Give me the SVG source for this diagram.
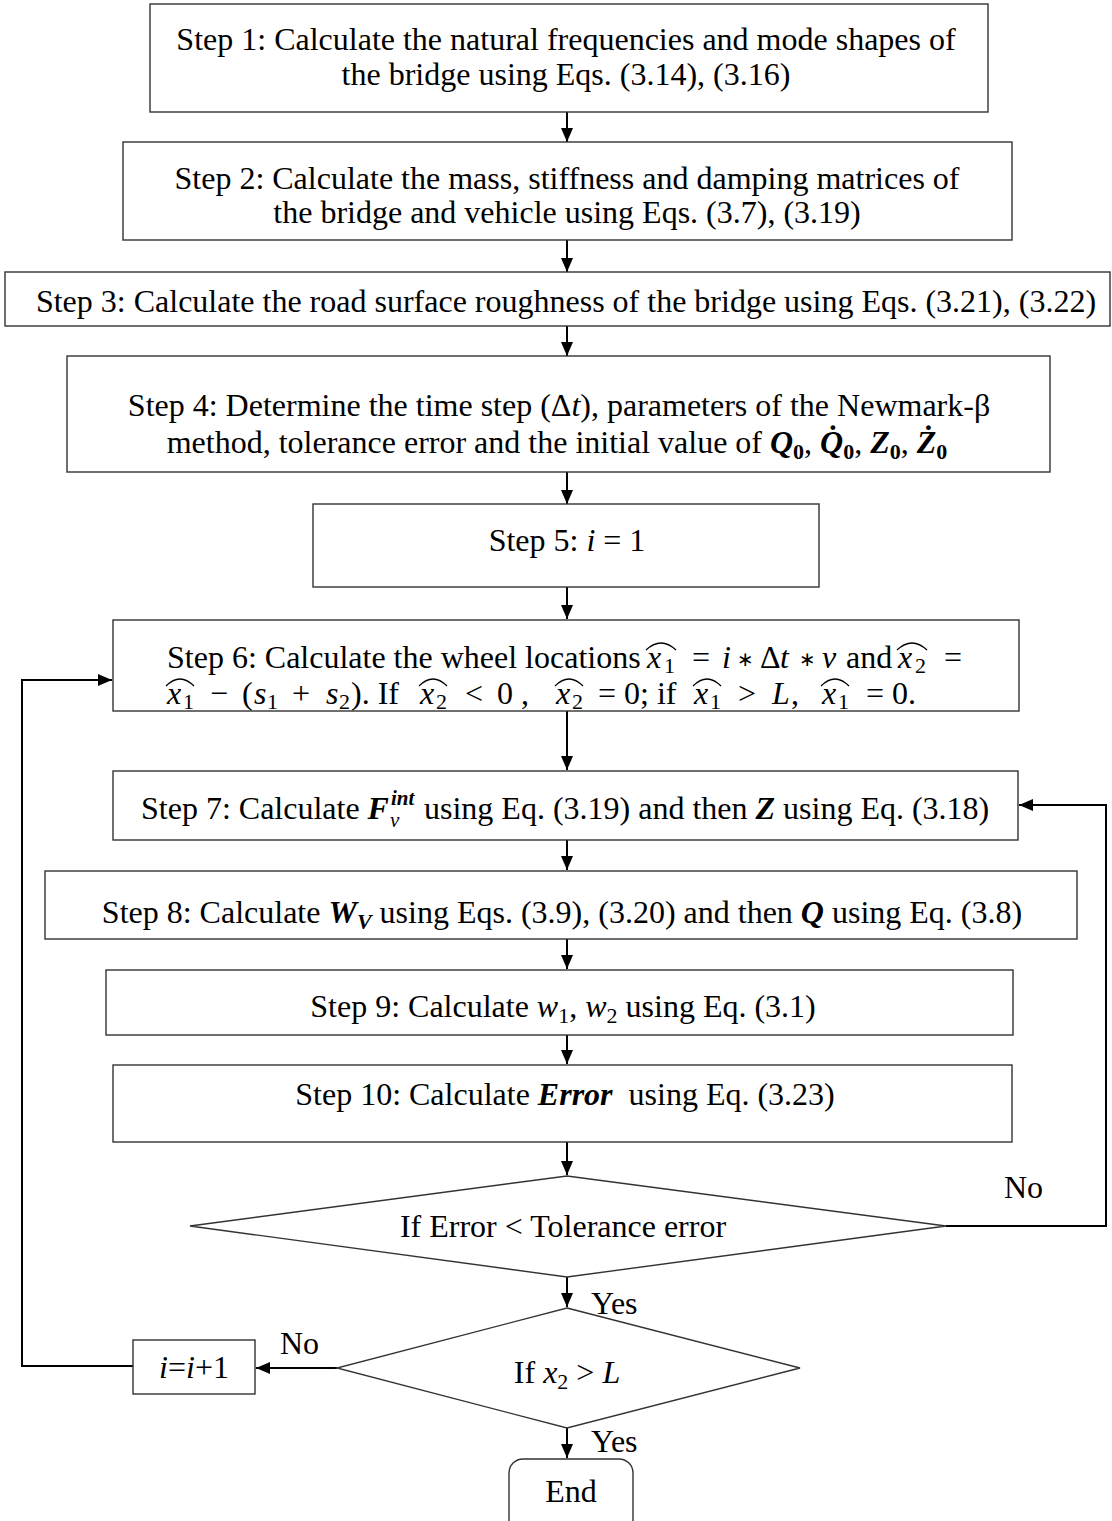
<svg xmlns="http://www.w3.org/2000/svg" width="1112" height="1521" viewBox="0 0 1112 1521">
<style>
.box{fill:#fff;stroke:#333;stroke-width:1.4}
.t{font-family:"Liberation Serif","Times New Roman",serif;font-size:32px;fill:#000}
.c{text-anchor:middle}
.m{font-style:italic}
.b{font-weight:bold;font-style:italic}
.bu{font-weight:bold}
.s{font-size:22px}
.ss{font-size:21px}
.op{font-family:"DejaVu Sans",sans-serif;font-size:20px}
.ln{fill:none;stroke:#000;stroke-width:2}
.hat{fill:none;stroke:#000;stroke-width:1.3}
</style>
<defs>
<marker id="ah" viewBox="0 0 14 12" refX="14" refY="6" markerWidth="14" markerHeight="12" markerUnits="userSpaceOnUse" orient="auto">
<path d="M0,0 L14,6 L0,12 z" fill="#000"/>
</marker>
</defs>
<rect width="1112" height="1521" fill="#fff"/>
<g id="connectors">
<line class="ln" x1="567" y1="112" x2="567" y2="142" marker-end="url(#ah)"/>
<line class="ln" x1="567" y1="240" x2="567" y2="272" marker-end="url(#ah)"/>
<line class="ln" x1="567" y1="326" x2="567" y2="356" marker-end="url(#ah)"/>
<line class="ln" x1="567" y1="472" x2="567" y2="504" marker-end="url(#ah)"/>
<line class="ln" x1="567" y1="587" x2="567" y2="619" marker-end="url(#ah)"/>
<line class="ln" x1="567" y1="711" x2="567" y2="770" marker-end="url(#ah)"/>
<line class="ln" x1="567" y1="840" x2="567" y2="870" marker-end="url(#ah)"/>
<line class="ln" x1="567" y1="939" x2="567" y2="969" marker-end="url(#ah)"/>
<line class="ln" x1="567" y1="1035" x2="567" y2="1064" marker-end="url(#ah)"/>
<line class="ln" x1="567" y1="1142" x2="567" y2="1175" marker-end="url(#ah)"/>
<line class="ln" x1="567" y1="1277" x2="567" y2="1307" marker-end="url(#ah)"/>
<line class="ln" x1="567" y1="1428" x2="567" y2="1458" marker-end="url(#ah)"/>
<polyline class="ln" points="946,1226 1106,1226 1106,805 1019,805" marker-end="url(#ah)"/>
<line class="ln" x1="337" y1="1368" x2="256" y2="1368" marker-end="url(#ah)"/>
<polyline class="ln" points="133,1366 22,1366 22,680 112,680" marker-end="url(#ah)"/>
<text class="t" x="1004" y="1198">No</text>
<text class="t" x="591" y="1314">Yes</text>
<text class="t" x="280" y="1354">No</text>
<text class="t" x="591" y="1452">Yes</text>
</g>
<g id="step1">
<rect class="box" x="150" y="4" width="838" height="108"/>
<text class="t c" x="566" y="50">Step 1: Calculate the natural frequencies and mode shapes of</text>
<text class="t c" x="566" y="85">the bridge using Eqs. (3.14), (3.16)</text>
</g>
<g id="step2">
<rect class="box" x="123" y="142" width="889" height="98"/>
<text class="t c" x="567" y="189">Step 2: Calculate the mass, stiffness and damping matrices of</text>
<text class="t c" x="567" y="223">the bridge and vehicle using Eqs. (3.7), (3.19)</text>
</g>
<g id="step3">
<rect class="box" x="5" y="272" width="1105" height="54"/>
<text class="t c" x="566" y="312">Step 3: Calculate the road surface roughness of the bridge using Eqs. (3.21), (3.22)</text>
</g>
<g id="step4">
<rect class="box" x="67" y="356" width="983" height="116"/>
<text class="t c" x="559" y="416">Step 4: Determine the time step (Δ<tspan class="m">t</tspan>), parameters of the Newmark-β</text>
<text class="t c" x="557" y="453">method, tolerance error and the initial value of <tspan class="b">Q</tspan><tspan class="bu s" dy="6">0</tspan><tspan dy="-6">, </tspan><tspan class="b">Q̇</tspan><tspan class="bu s" dy="6">0</tspan><tspan dy="-6">, </tspan><tspan class="b">Z</tspan><tspan class="bu s" dy="6">0</tspan><tspan dy="-6">, </tspan><tspan class="b">Ż</tspan><tspan class="bu s" dy="6">0</tspan></text>
</g>
<g id="step5">
<rect class="box" x="313" y="504" width="506" height="83"/>
<text class="t c" x="567" y="551">Step 5: <tspan class="m">i</tspan> = 1</text>
</g>
<g id="step6">
<rect class="box" x="113" y="620" width="906" height="91"/>
<text class="t" y="668"><tspan x="167">Step 6: Calculate the wheel locations</tspan><tspan class="m" x="647">x</tspan><tspan class="s" x="664" dy="5">1</tspan><tspan x="692" dy="-5">=</tspan><tspan class="m" x="722">i</tspan><tspan class="op" x="737" dy="-2">∗</tspan><tspan x="760" dy="2">Δ</tspan><tspan class="m" x="780">t</tspan><tspan class="op" x="799" dy="-2">∗</tspan><tspan class="m" x="822" dy="2">v</tspan><tspan x="846">and</tspan><tspan class="m" x="898">x</tspan><tspan class="s" x="915" dy="5">2</tspan><tspan x="944" dy="-5">=</tspan></text>
<text class="t" y="704"><tspan class="m" x="167">x</tspan><tspan class="s" x="183" dy="5">1</tspan><tspan x="210" dy="-5">−</tspan><tspan x="242">(</tspan><tspan class="m" x="254">s</tspan><tspan class="s" x="267" dy="5">1</tspan><tspan x="292" dy="-5">+</tspan><tspan class="m" x="326">s</tspan><tspan class="s" x="339" dy="5">2</tspan><tspan x="351" dy="-5">). If</tspan><tspan class="m" x="420">x</tspan><tspan class="s" x="436" dy="5">2</tspan><tspan x="465" dy="-5">&lt;</tspan><tspan x="497">0 ,</tspan><tspan class="m" x="556">x</tspan><tspan class="s" x="572" dy="5">2</tspan><tspan x="598" dy="-5">= 0; if</tspan><tspan class="m" x="694">x</tspan><tspan class="s" x="710" dy="5">1</tspan><tspan x="738" dy="-5">&gt;</tspan><tspan class="m" x="772">L</tspan><tspan x="791">,</tspan><tspan class="m" x="822">x</tspan><tspan class="s" x="838" dy="5">1</tspan><tspan x="866" dy="-5">= 0.</tspan></text>
<path class="hat" d="M646,650 Q661,636 676,650 M897,650 Q912,636 927,650"/>
<path class="hat" d="M166,686 Q180,672 194,686 M419,686 Q433,672 447,686 M555,686 Q569,672 583,686 M693,686 Q707,672 721,686 M821,686 Q835,672 849,686"/>
</g>
<g id="step7">
<rect class="box" x="113" y="771" width="905" height="69"/>
<text class="t" x="141" y="819">Step 7: Calculate <tspan class="b">F</tspan></text>
<text class="t b ss" x="391" y="805">int</text>
<text class="t m ss" x="390" y="827">v</text>
<text class="t" x="424" y="819">using Eq. (3.19) and then <tspan class="b">Z</tspan> using Eq. (3.18)</text>
</g>
<g id="step8">
<rect class="box" x="45" y="871" width="1032" height="68"/>
<text class="t c" x="562" y="923">Step 8: Calculate <tspan class="b">W</tspan><tspan class="b s" dy="6">V</tspan><tspan dy="-6"> using Eqs. (3.9), (3.20) and then </tspan><tspan class="b">Q</tspan> using Eq. (3.8)</text>
</g>
<g id="step9">
<rect class="box" x="106" y="970" width="907" height="65"/>
<text class="t c" x="563" y="1017">Step 9: Calculate <tspan class="m">w</tspan><tspan class="s" dy="6">1</tspan><tspan dy="-6">, </tspan><tspan class="m">w</tspan><tspan class="s" dy="6">2</tspan><tspan dy="-6"> using Eq. (3.1)</tspan></text>
</g>
<g id="step10">
<rect class="box" x="113" y="1065" width="899" height="77"/>
<text class="t c" x="565" y="1105">Step 10: Calculate <tspan class="b">Error</tspan><tspan dx="8"> using Eq. (3.23)</tspan></text>
</g>
<g id="decision1">
<polygon class="box" points="567,1176 946,1226 567,1277 190,1226"/>
<text class="t c" x="563" y="1237">If Error &lt; Tolerance error</text>
</g>
<g id="decision2">
<polygon class="box" points="567,1308 800,1368 567,1428 337,1368"/>
<text class="t c" x="567" y="1383">If <tspan class="m">x</tspan><tspan class="s" dy="6">2</tspan><tspan dy="-6"> &gt; </tspan><tspan class="m">L</tspan></text>
</g>
<g id="increment">
<rect class="box" x="133" y="1340" width="122" height="54"/>
<text class="t c" x="194" y="1378"><tspan class="m">i</tspan>=<tspan class="m">i</tspan>+1</text>
</g>
<g id="end">
<rect class="box" x="509" y="1459" width="124" height="80" rx="14"/>
<text class="t c" x="571" y="1502">End</text>
</g>
</svg>
